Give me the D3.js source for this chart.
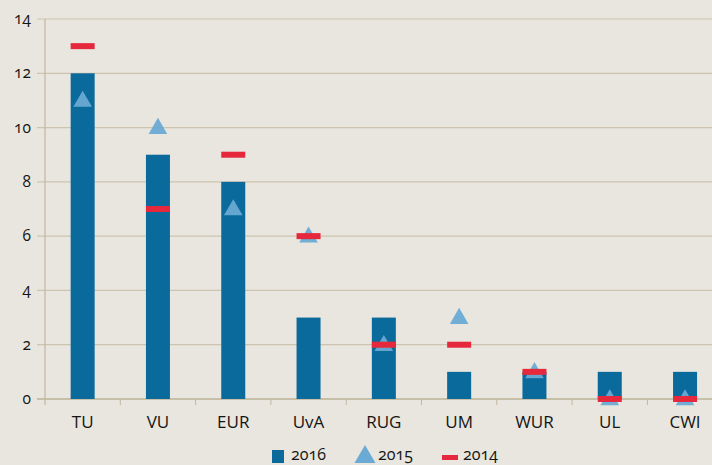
<!DOCTYPE html>
<html>
<head>
<meta charset="utf-8">
<script src="https://cdn.jsdelivr.net/npm/d3@7"></script>
<style>
  body { margin: 0; background: #e8e6de; }
  svg { display: block; font-family: "Open Sans", Lato, sans-serif; font-feature-settings: "onum"; }
</style>
</head>
<body>
<svg id="chart"></svg>
<script>
var categories = ["TU", "VU", "EUR", "UvA", "RUG", "UM", "WUR", "UL", "CWI"];
var values2016 = [12, 9, 8, 3, 3, 1, 1, 1, 1];
var values2015 = [11, 10, 7, 6, 2, 3, 1, 0, 0];
var values2014 = [13, 7, 9, 6, 2, 2, 1, 0, 0];
var yTicks = [0, 2, 4, 6, 8, 10, 12, 14];
var seriesNames = ["2016", "2015", "2014"];

var size = { width: 712, height: 465, top: 19, bottom: 66, left: 45 };
var colors = { bar: "#0a6a9c", tri: "#6aaad4", dash: "#e5283c", grid: "#cdc4b0", axis: "#c2b79f" };

var svg = d3.select("#chart")
    .attr("width", size.width)
    .attr("height", size.height);

var x = d3.scaleBand()
    .domain(categories)
    .range([size.left, size.left + 9 * 75.3]);

var y = d3.scaleLinear()
    .domain([0, 14])
    .range([size.height - size.bottom, size.top]);

// gridlines
svg.append("g")
    .selectAll("line")
    .data(yTicks)
    .enter()
    .append("line")
    .attr("x1", size.left - 8)
    .attr("x2", size.width)
    .attr("y1", d => y(d))
    .attr("y2", d => y(d))
    .attr("stroke", colors.grid)
    .attr("stroke-width", 1.2);

// y labels
svg.append("g")
    .selectAll("text")
    .data(yTicks)
    .enter()
    .append("text")
    .attr("x", 31)
    .attr("y", d => y(d) + 5)
    .attr("text-anchor", "end")
    .style("font-size", "15.5px")
    .attr("fill", "#151515")
    .text(d => d);

// y axis line
svg.append("line")
    .attr("x1", size.left).attr("x2", size.left)
    .attr("y1", y(14)).attr("y2", y(0) + 6)
    .attr("stroke", colors.axis).attr("stroke-width", 1.2);

// x axis line + ticks between bands
svg.append("line")
    .attr("x1", size.left - 8).attr("x2", size.width)
    .attr("y1", y(0)).attr("y2", y(0))
    .attr("stroke", colors.axis).attr("stroke-width", 1.5);

svg.append("g")
    .selectAll("line")
    .data(categories.slice(1))
    .enter()
    .append("line")
    .attr("x1", d => x(d))
    .attr("x2", d => x(d))
    .attr("y1", y(0))
    .attr("y2", y(0) + 6)
    .attr("stroke", colors.axis);

svg.append("g")
    .selectAll("text")
    .data(categories)
    .enter()
    .append("text")
    .attr("x", d => x(d) + x.bandwidth() / 2)
    .attr("y", y(0) + 29)
    .attr("text-anchor", "middle")
    .style("font-size", "17px")
    .attr("fill", "#151515")
    .text(d => d);

var barWidth = 24;
var cx = d => x(d) + x.bandwidth() / 2;

// bars 2016
svg.append("g")
    .selectAll("rect")
    .data(categories)
    .enter()
    .append("rect")
    .attr("x", d => cx(d) - barWidth / 2)
    .attr("y", (d, i) => y(values2016[i]))
    .attr("width", barWidth)
    .attr("height", (d, i) => y(0) - y(values2016[i]))
    .attr("fill", colors.bar);

// triangles 2015
var tri = d3.symbol().type(d3.symbolTriangle).size(150);
svg.append("g")
    .selectAll("path")
    .data(categories)
    .enter()
    .append("path")
    .attr("d", tri)
    .attr("transform", (d, i) => "translate(" + cx(d) + "," + (y(values2015[i]) + 1) + ")")
    .attr("fill", colors.tri)
    .attr("opacity", 0.95);

// dashes 2014
svg.append("g")
    .selectAll("rect")
    .data(categories)
    .enter()
    .append("rect")
    .attr("x", d => cx(d) - 12)
    .attr("y", (d, i) => y(values2014[i]) - 3)
    .attr("width", 24)
    .attr("height", 6)
    .attr("fill", colors.dash);

// legend
var legend = svg.append("g").attr("transform", "translate(0,456)");
legend.append("rect").attr("x", 272).attr("y", -6).attr("width", 12).attr("height", 13).attr("fill", colors.bar);
legend.append("text").attr("x", 291).attr("y", 4).style("font-size", "16px").attr("fill", "#151515").text(seriesNames[0]);
legend.append("path").attr("d", d3.symbol().type(d3.symbolTriangle).size(190))
    .attr("transform", "translate(365,1)").attr("fill", colors.tri);
legend.append("text").attr("x", 378).attr("y", 4).style("font-size", "16px").attr("fill", "#151515").text(seriesNames[1]);
legend.append("rect").attr("x", 442).attr("y", -1).attr("width", 16).attr("height", 5).attr("fill", colors.dash);
legend.append("text").attr("x", 463).attr("y", 4).style("font-size", "16px").attr("fill", "#151515").text(seriesNames[2]);
</script>
</body>
</html>
